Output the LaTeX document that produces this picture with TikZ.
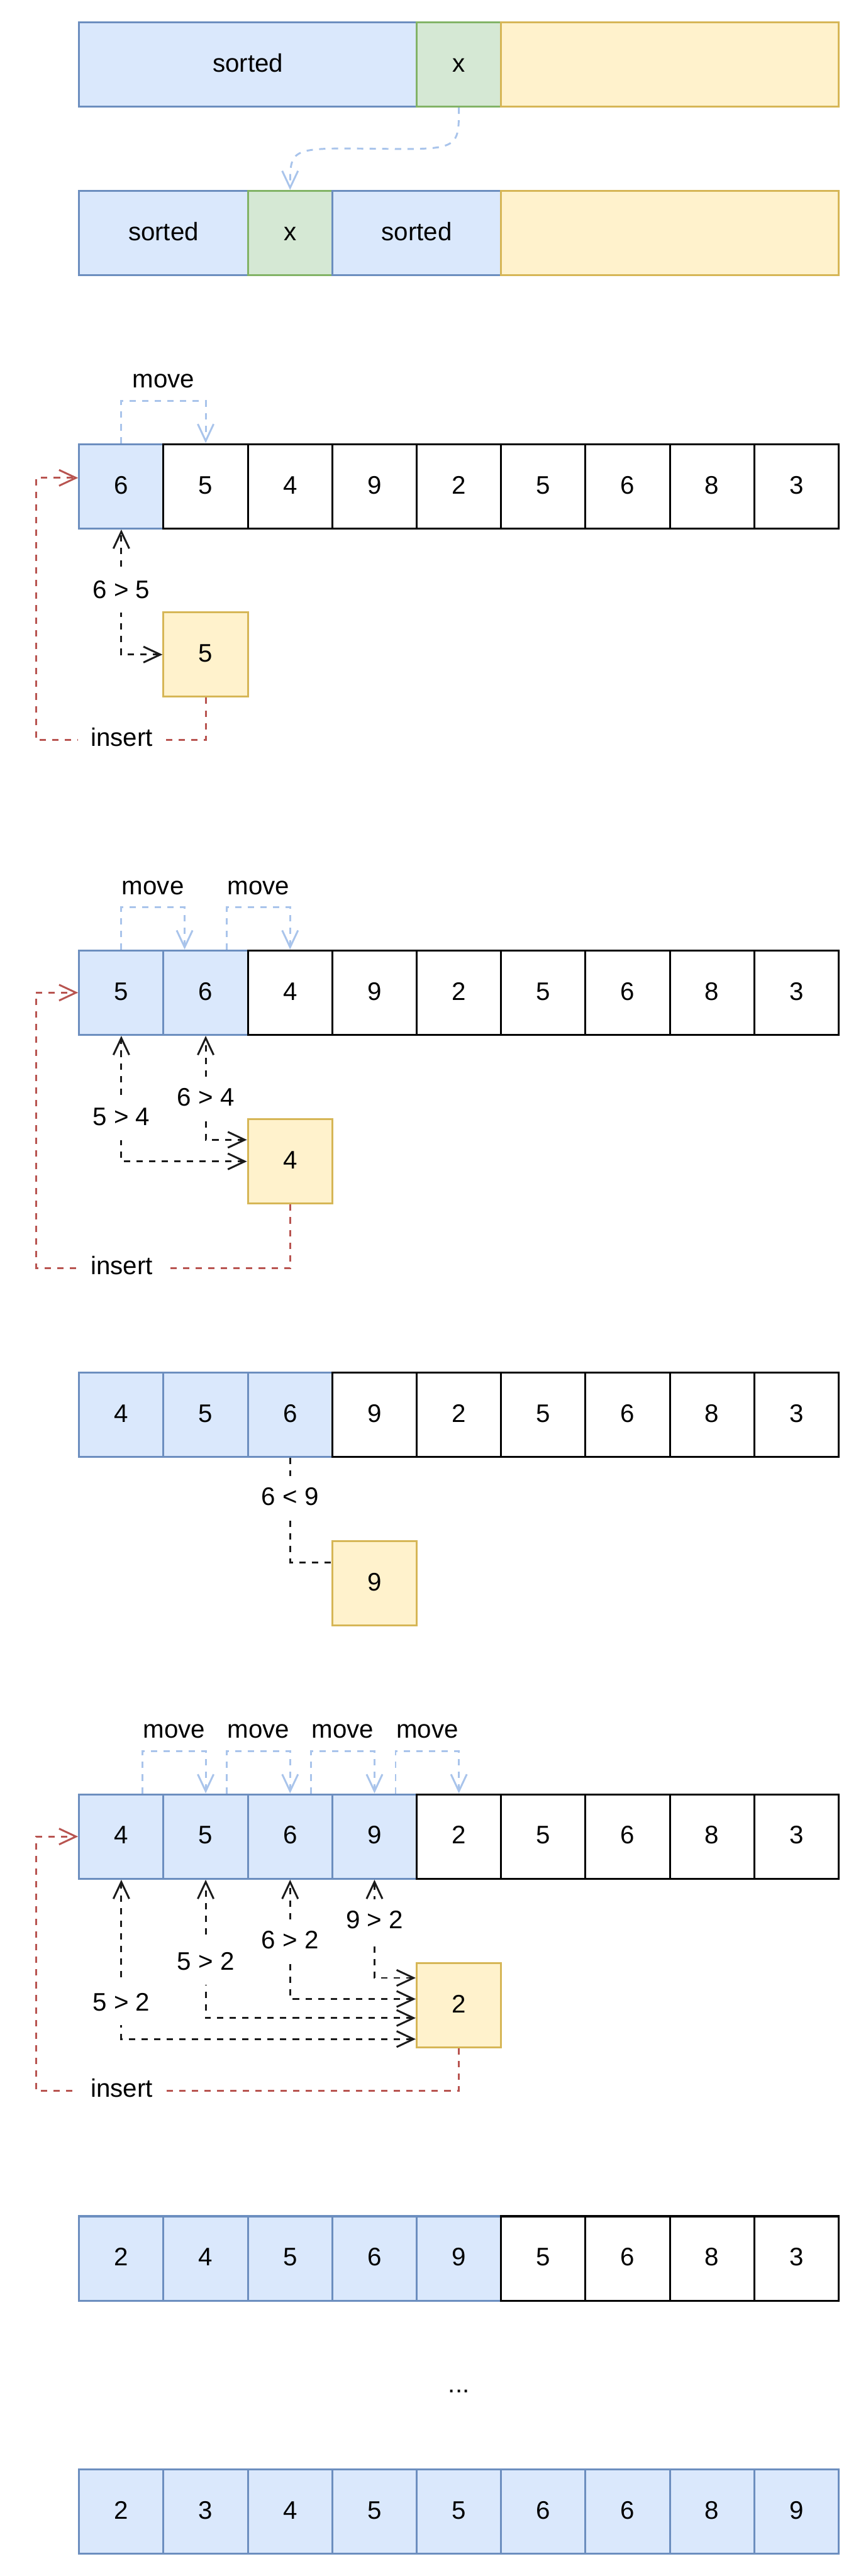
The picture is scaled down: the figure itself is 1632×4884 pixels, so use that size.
\documentclass[tikz,border=0pt]{standalone}
\usepackage{fontspec}
\setmainfont{Liberation Sans}
\usetikzlibrary{arrows.meta,calc}
\definecolor{bfill}{HTML}{DAE8FC}
\definecolor{bline}{HTML}{6C8EBF}
\definecolor{gfill}{HTML}{D5E8D4}
\definecolor{gline}{HTML}{82B366}
\definecolor{yfill}{HTML}{FFF2CC}
\definecolor{yline}{HTML}{D6B656}
\definecolor{redln}{HTML}{B85450}
\definecolor{lblue}{HTML}{A9C4EB}
\definecolor{darkln}{HTML}{1A1A1A}
\begin{document}
\begin{tikzpicture}[x=0.01cm,y=-0.01cm,
  font=\fontsize{13.66}{16}\selectfont,
  >={Straight Barb[length=0.32cm,width=0.3cm]},
  cell/.style={draw, minimum width=1.6cm, minimum height=1.6cm, line width=1.05pt,
    inner sep=0pt, text height=0.34cm, text depth=0.06cm},
  cw/.style={cell, fill=white, draw=black},
  cb/.style={cell, fill=bfill, draw=bline},
  cy/.style={cell, fill=yfill, draw=yline},
  cg/.style={cell, fill=gfill, draw=gline},
  dsh/.style={line width=1pt, dash pattern=on 3.4pt off 3.4pt},
  movearr/.style={dsh, draw=lblue, ->},
  cmp/.style={dsh, draw=darkln, <->},
  cmpl/.style={dsh, draw=darkln},
  insarrow/.style={dsh, draw=redln, ->},
  lbl/.style={fill=white, inner xsep=0.24cm, inner ysep=0.215cm, text height=0.34cm, text depth=0.06cm},
  mv/.style={inner sep=0pt, text height=0.34cm, text depth=0.06cm}]
\useasboundingbox (0,0) rectangle (1632,4884);

% ---- top schematic ----
\node[cb, minimum width=6.4cm] (tsorted) at (470,122) {sorted};
\node[cg] (tx) at (870,122) {x};
\node[cy, minimum width=6.4cm] (tyel) at (1270,122) {};
\node[cb, minimum width=3.2cm] (bs1) at (310,442) {sorted};
\node[cg] (bx) at (550,442) {x};
\node[cb, minimum width=3.2cm] (bs2) at (790,442) {sorted};
\node[cy, minimum width=6.4cm] (byel) at (1270,442) {};
\draw[movearr] (tx.south) .. controls ($(tx.south)+(0,80)$) .. ($(tx.south)!0.5!(bx.north)$)
  .. controls ($(bx.north)+(0,-80)$) .. (bx.north);

% ---- row 1 ----
\foreach \v/\s [count=\i from 0] in {6/cb,5/cw,4/cw,9/cw,2/cw,5/cw,6/cw,8/cw,3/cw}
  \node[\s] (ra\i) at ({230+160*\i},922) {\v};
\node[cy] (k1) at (390,1241) {5};
\draw[movearr] (ra0.north) -- ++(0,-80) -| (ra1.north);
\node[mv] at (310,721) {move};
\draw[cmp] (k1.west) -| (ra0.south);
\node[lbl] at (230,1120) {6 > 5};
\draw[insarrow] (k1.south) -- ++(0,80) -| ($(ra0.west)+(-80,-16)$) -- ($(ra0.west)+(0,-16)$);
\node[lbl] at (231,1401) {insert};

% ---- row 2 ----
\foreach \v/\s [count=\i from 0] in {5/cb,6/cb,4/cw,9/cw,2/cw,5/cw,6/cw,8/cw,3/cw}
  \node[\s] (rb\i) at ({230+160*\i},1882) {\v};
\node[cy] (k2) at (550,2202) {4};
\draw[movearr] (rb0.north) -- ++(0,-80) -| ($(rb1.north)+(-40,0)$);
\draw[movearr] ($(rb1.north)+(40,0)$) -- ++(0,-80) -| (rb2.north);
\node[mv] at (290,1682) {move};
\node[mv] at (490,1682) {move};
\draw[cmp] (k2.west) -| (rb0.south);
\node[lbl] at (230,2120) {5 > 4};
\draw[cmp] ($(k2.west)+(0,-41)$) -| (rb1.south);
\node[lbl] at (390,2083) {6 > 4};
\draw[insarrow] (k2.south) -- ++(0,120) -| ($(rb0.west)+(-80,0)$) -- (rb0.west);
\node[lbl] at (231,2402) {insert};

% ---- row 3 ----
\foreach \v/\s [count=\i from 0] in {4/cb,5/cb,6/cb,9/cw,2/cw,5/cw,6/cw,8/cw,3/cw}
  \node[\s] (rc\i) at ({230+160*\i},2682) {\v};
\node[cy] (k3) at (710,3002) {9};
\draw[cmpl] (rc2.south) |- ($(k3.west)+(0,-40)$);
\node[lbl] at (550,2840) {6 < 9};

% ---- row 4 ----
\foreach \v/\s [count=\i from 0] in {4/cb,5/cb,6/cb,9/cb,2/cw,5/cw,6/cw,8/cw,3/cw}
  \node[\s] (rd\i) at ({230+160*\i},3482) {\v};
\node[cy] (k4) at (870,3802) {2};
\foreach \i/\j in {0/1,1/2,2/3,3/4}{
  \draw[movearr] ($(rd\i.north)+(40,0)$) -- ++(0,-80) -| (rd\j.north);
  \node[mv] at ({330+160*\i},3281) {move};
}
\draw[cmp] ($(k4.west)+(0,64)$) -| (rd0.south);
\node[lbl] at (230,3798) {5 > 2};
\draw[cmp] ($(k4.west)+(0,24)$) -| (rd1.south);
\node[lbl] at (390,3721) {5 > 2};
\draw[cmp] ($(k4.west)+(0,-12)$) -| (rd2.south);
\node[lbl] at (550,3681) {6 > 2};
\draw[cmp] ($(k4.west)+(0,-52)$) -| (rd3.south);
\node[lbl] at (710,3642) {9 > 2};
\draw[insarrow] (k4.south) -- ++(0,80) -| ($(rd0.west)+(-80,0)$) -- (rd0.west);
\node[lbl] at (231,3962) {insert};

% ---- row 5 ----
\foreach \v/\s [count=\i from 0] in {2/cb,4/cb,5/cb,6/cb,9/cb,5/cw,6/cw,8/cw,3/cw}
  \node[\s] (re\i) at ({230+160*\i},4282) {\v};
\node[mv] (dots) at (870,4522) {...};

% ---- row 6 ----
\foreach \v [count=\i from 0] in {2,3,4,5,5,6,6,8,9}
  \node[cb] (rf\i) at ({230+160*\i},4762) {\v};
\end{tikzpicture}
\end{document}
